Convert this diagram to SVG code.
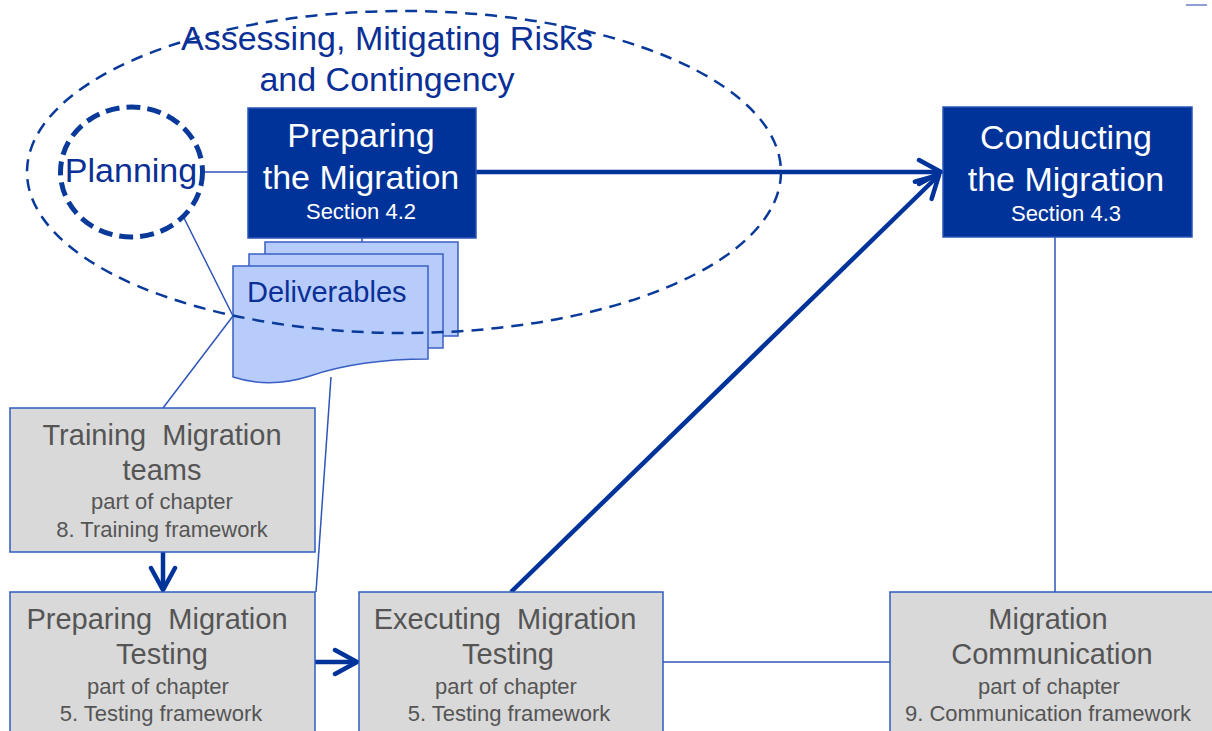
<svg xmlns="http://www.w3.org/2000/svg" width="1212" height="731" viewBox="0 0 1212 731">
<defs>
<style>
.blue{fill:#003399;stroke:#2a55b8;stroke-width:1.5}
.gray{fill:#d9d9d9;stroke:#2f5cc0;stroke-width:1.5}
.sheet{fill:#b7ccfb;stroke:#3a5fc4;stroke-width:1.5}
.thin{stroke:#2f55b8;stroke-width:1.5;fill:none}
.thick{stroke:#003399;stroke-width:4.5;fill:none}
.wt{font-family:"Liberation Sans",Arial,sans-serif;fill:#ffffff;text-anchor:middle}
.bt{font-family:"Liberation Sans",Arial,sans-serif;fill:#0a2f96;text-anchor:middle}
.gt{font-family:"Liberation Sans",Arial,sans-serif;fill:#555555;text-anchor:middle}
.big{font-size:34px}
.sec{font-size:22px}
.gtitle{font-size:29px}
.gsub{font-size:22px}
</style>
<marker id="arr" markerUnits="userSpaceOnUse" viewBox="0 0 28 30" refX="25" refY="15" markerWidth="28" markerHeight="30" orient="auto">
<path d="M3,3 L25,15 L3,27" fill="none" stroke="#003399" stroke-width="4.5" stroke-linecap="round" stroke-linejoin="round"/>
</marker>
</defs>
<rect width="1212" height="731" fill="#ffffff"/>

<g id="connectors">
<line class="thin" x1="202" y1="172" x2="248" y2="172"/>
<line class="thin" x1="183" y1="216" x2="233" y2="316"/>
<line class="thin" x1="233" y1="316" x2="163" y2="408"/>
<line class="thin" x1="331" y1="377" x2="316" y2="592"/>
<line class="thin" x1="362" y1="238" x2="362" y2="242"/>
<line class="thin" x1="663" y1="662" x2="890" y2="662"/>
<line class="thin" x1="1055" y1="237" x2="1055" y2="592"/>
<line class="thick" x1="476" y1="172" x2="941" y2="172" marker-end="url(#arr)"/>
<line class="thick" x1="511" y1="592" x2="939" y2="175" marker-end="url(#arr)"/>
<line class="thick" x1="163" y1="552" x2="163" y2="590" marker-end="url(#arr)"/>
<line class="thick" x1="315" y1="662" x2="357" y2="662" marker-end="url(#arr)"/>
<line x1="1186" y1="5" x2="1207" y2="5" stroke="#6b7fc4" stroke-width="1.5"/>
</g>

<g id="deliverables">
<rect class="sheet" x="265" y="242" width="193" height="94"/>
<rect class="sheet" x="249" y="254" width="194" height="94"/>
<path class="sheet" d="M233,266 H428 V359 C385,359 345,364 310,376 C285,384 258,385 233,377 Z"/>
<text class="bt" x="247" y="302" style="font-size:29px;text-anchor:start">Deliverables</text>
</g>

<g id="risk-ellipse">
<ellipse cx="404" cy="172" rx="377" ry="161" fill="none" stroke="#0a3a99" stroke-width="2.5" stroke-dasharray="12 8"/>
<text class="bt big" x="387" y="50">Assessing, Mitigating Risks</text>
<text class="bt big" x="387" y="91">and Contingency</text>
</g>

<g id="planning">
<ellipse cx="131.5" cy="172" rx="71" ry="65" fill="none" stroke="#0a3a99" stroke-width="5" stroke-dasharray="14 7"/>
<text class="bt big" x="131" y="182">Planning</text>
</g>

<g id="preparing-migration">
<rect class="blue" x="248" y="108" width="228" height="130"/>
<text class="wt big" x="361" y="147">Preparing</text>
<text class="wt big" x="361" y="189">the Migration</text>
<text class="wt sec" x="361" y="219">Section 4.2</text>
</g>

<g id="conducting-migration">
<rect class="blue" x="943" y="107" width="249" height="130"/>
<text class="wt big" x="1066" y="149">Conducting</text>
<text class="wt big" x="1066" y="191">the Migration</text>
<text class="wt sec" x="1066" y="221">Section 4.3</text>
</g>

<g id="training">
<rect class="gray" x="10" y="408" width="305" height="144"/>
<text class="gt gtitle" x="162" y="445" xml:space="preserve">Training  Migration</text>
<text class="gt gtitle" x="162" y="480">teams</text>
<text class="gt gsub" x="162" y="509">part of chapter</text>
<text class="gt gsub" x="162" y="537">8. Training framework</text>
</g>

<g id="preparing-testing">
<rect class="gray" x="10" y="592" width="305" height="145"/>
<text class="gt gtitle" x="157" y="629" xml:space="preserve">Preparing  Migration</text>
<text class="gt gtitle" x="162" y="664">Testing</text>
<text class="gt gsub" x="158" y="694">part of chapter</text>
<text class="gt gsub" x="161" y="721">5. Testing framework</text>
</g>

<g id="executing-testing">
<rect class="gray" x="359" y="592" width="304" height="145"/>
<text class="gt gtitle" x="505" y="629" xml:space="preserve">Executing  Migration</text>
<text class="gt gtitle" x="508" y="664">Testing</text>
<text class="gt gsub" x="506" y="694">part of chapter</text>
<text class="gt gsub" x="509" y="721">5. Testing framework</text>
</g>

<g id="communication">
<rect class="gray" x="890" y="592" width="330" height="145"/>
<text class="gt gtitle" x="1048" y="629">Migration</text>
<text class="gt gtitle" x="1052" y="664">Communication</text>
<text class="gt gsub" x="1049" y="694">part of chapter</text>
<text class="gt gsub" x="1048" y="721">9. Communication framework</text>
</g>
</svg>
